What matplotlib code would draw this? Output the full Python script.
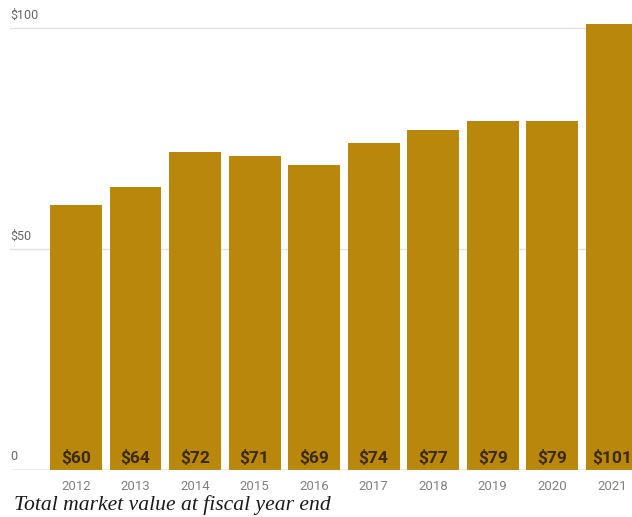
import numpy as np
import matplotlib.pyplot as plt

years = ['2012', '2013', '2014', '2015', '2016', '2017', '2018', '2019', '2020', '2021']
values = [60, 64, 72, 71, 69, 74, 77, 79, 79, 101]
yticks = [0, 50, 100]
ytick_labels = ['0', '$50', '$100']
caption = 'Total market value at fiscal year end'

bar_color = '#B8870B'

fig = plt.figure(figsize=(6.32, 5.17), dpi=100)
W, H = 632, 517
# 0 at y=470 px, 100 at y=28 px; extend to 105 so the 2021 bar shows above the top line
ymax = 105
ax = fig.add_axes([10 / W, (H - 470) / H, 622 / W, 4.42 * ymax / H])

x = np.arange(len(years))
ax.bar(x, values, width=0.87, color=bar_color, zorder=2)
ax.set_xlim(-1.11, 9.34)
ax.set_ylim(0, ymax)

# gridlines + labels sitting above them
for v, lab in zip(yticks, ytick_labels):
    if v == 0:
        ax.axhline(v, color='#9a9a9a', lw=1.0, zorder=3, xmin=0.003)
    else:
        ax.axhline(v, color='#e2e2e2', lw=1.0, zorder=1)
    ax.text(0.0, v + 1.5, lab, transform=ax.get_yaxis_transform(),
            ha='left', va='bottom', fontsize=9, color='#666666',
            family='Roboto')

# value labels inside bars
for xi, v in zip(x, values):
    ax.text(xi, 1.0, f'${v}', ha='center', va='bottom', fontsize=12.5,
            fontweight='bold', color='#3b2a05', family='Roboto', zorder=4)

# year labels
for xi, yr in zip(x, years):
    ax.text(xi, -2.2, yr, ha='center', va='top', fontsize=9.5,
            color='#808080', family='Roboto', clip_on=False)

for s in ax.spines.values():
    s.set_visible(False)
ax.set_xticks([])
ax.set_yticks([])

fig.text(14 / W, 1 - 505 / H, caption, ha='left', va='center',
         fontsize=15.6, style='italic', family='Liberation Serif', color='#1a1a1a')

fig.savefig('out.png', dpi=100)
